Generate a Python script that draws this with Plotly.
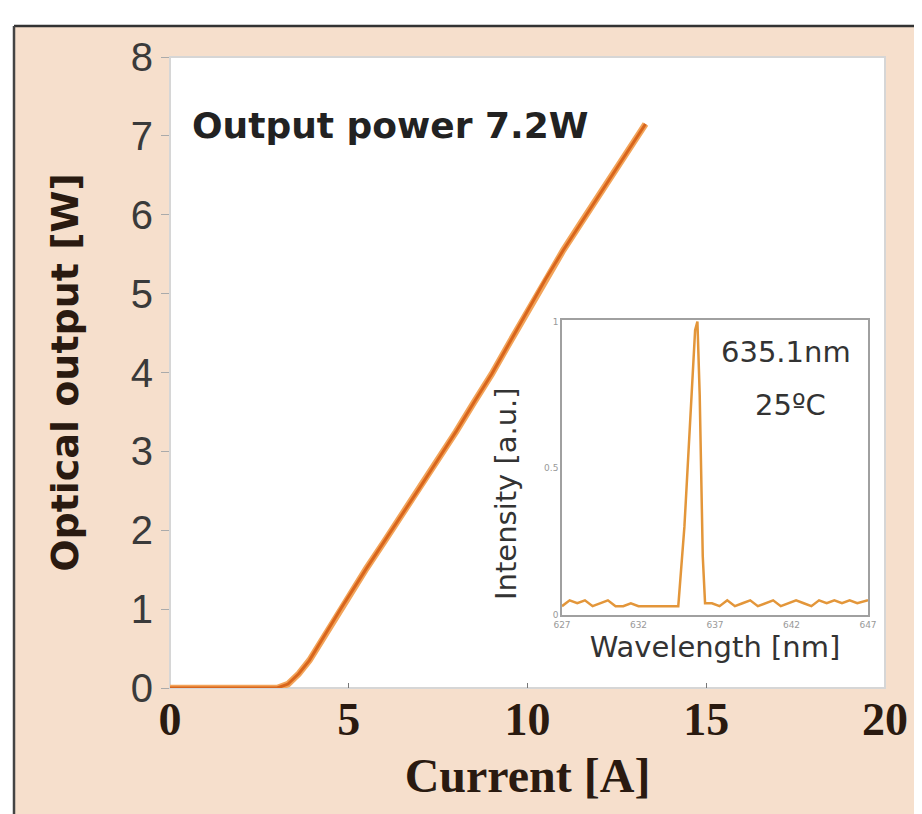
import plotly.graph_objects as go

# ---- data ----
current_a = [0, 1, 2, 3.0, 3.3, 3.6, 3.9, 4.3, 4.8, 5.5, 6.0, 6.5, 7.0, 7.5, 8.0,
             8.5, 9.0, 9.5, 10.0, 10.5, 11.0, 11.5, 12.0, 12.5, 13.0, 13.3]
power_w = [0, 0, 0, 0, 0.05, 0.18, 0.35, 0.65, 1.02, 1.52, 1.86, 2.2, 2.55, 2.9, 3.25,
           3.62, 3.98, 4.38, 4.78, 5.18, 5.55, 5.9, 6.25, 6.6, 6.95, 7.15]

x_ticks = [0, 5, 10, 15, 20]
y_ticks = [0, 1, 2, 3, 4, 5, 6, 7, 8]

wavelength_nm = [627, 627.5, 628, 628.5, 629, 629.5, 630, 630.5, 631, 631.5, 632, 632.5,
                 633, 633.5, 634, 634.6, 635.0, 635.4, 635.7, 635.85, 636.0, 636.2, 636.35,
                 636.8, 637.3, 637.8, 638.3, 638.8, 639.3, 639.8, 640.3, 640.8, 641.3,
                 641.8, 642.3, 642.8, 643.3, 643.8, 644.3, 644.8, 645.3, 645.8, 646.3, 647]
intensity = [0.03, 0.05, 0.04, 0.05, 0.03, 0.04, 0.05, 0.03, 0.03, 0.04, 0.03, 0.03,
             0.03, 0.03, 0.03, 0.03, 0.3, 0.7, 0.97, 1.0, 0.75, 0.2, 0.04,
             0.04, 0.03, 0.05, 0.03, 0.04, 0.05, 0.03, 0.04, 0.05, 0.03,
             0.04, 0.05, 0.04, 0.03, 0.05, 0.04, 0.05, 0.04, 0.05, 0.04, 0.05]
wl_ticks = [627, 632, 637, 642, 647]
int_ticks = [0, 0.5, 1]

# ---- geometry helpers (reference pixel -> paper) ----
OFF = 8                      # page body margin of the browser
W, H = 922 - OFF, 814 - OFF  # figure size
L, R, T, B = 170, 885, 57, 688  # plot area in page pixels


def px(p):
    return (p - L) / (R - L)


def py(p):
    return (B - p) / (B - T)


fig = go.Figure()

# main L-I curve (light halo + darker core)
fig.add_trace(go.Scatter(x=current_a, y=power_w, mode="lines",
                         line=dict(color="#F2A45A", width=6.5), hoverinfo="skip",
                         showlegend=False, xaxis="x", yaxis="y"))
fig.add_trace(go.Scatter(x=current_a, y=power_w, mode="lines",
                         line=dict(color="#D8651C", width=3), showlegend=False,
                         xaxis="x", yaxis="y"))

# inset spectrum
fig.add_trace(go.Scatter(x=wavelength_nm, y=intensity, mode="lines",
                         line=dict(color="#E3963A", width=2.5), showlegend=False,
                         xaxis="x2", yaxis="y2"))

shapes = [
    # peach panel
    dict(type="rect", xref="paper", yref="paper", layer="below",
         x0=px(14), x1=px(930), y0=py(830), y1=py(26),
         fillcolor="#F6DFCC", line=dict(width=0)),
    # white plot area
    dict(type="rect", xref="paper", yref="paper", layer="below",
         x0=0, x1=1, y0=0, y1=1, fillcolor="white",
         line=dict(color="#D6D6D6", width=2)),
    # frame lines
    dict(type="line", xref="paper", yref="paper",
         x0=px(14), x1=px(930), y0=py(26), y1=py(26),
         line=dict(color="#333333", width=2.5)),
    dict(type="line", xref="paper", yref="paper",
         x0=px(14), x1=px(14), y0=py(26), y1=py(830),
         line=dict(color="#444444", width=2.5)),
]

annotations = [
    dict(text="<b>Output power 7.2W</b>", xref="paper", yref="paper",
         x=px(190), y=py(125), xanchor="left", yanchor="middle", showarrow=False,
         font=dict(family="DejaVu Sans", size=36, color="#222222")),
    dict(text="635.1nm", xref="paper", yref="paper", x=px(786), y=py(352),
         xanchor="center", yanchor="middle", showarrow=False,
         font=dict(family="DejaVu Sans", size=29, color="#333333")),
    dict(text="25ºC", xref="paper", yref="paper", x=px(790), y=py(405),
         xanchor="center", yanchor="middle", showarrow=False,
         font=dict(family="DejaVu Sans", size=29, color="#333333")),
    dict(text="Intensity [a.u.]", xref="paper", yref="paper", x=px(506), y=py(494),
         xanchor="center", yanchor="middle", textangle=-90, showarrow=False,
         font=dict(family="DejaVu Sans", size=29, color="#333333")),
]

fig.update_layout(
    width=W, height=H,
    margin=dict(l=L - OFF, r=W - (R - OFF), t=T - OFF, b=H - (B - OFF), autoexpand=False),
    paper_bgcolor="white", plot_bgcolor="rgba(0,0,0,0)",
    shapes=shapes, annotations=annotations,
    xaxis=dict(range=[0, 20], tickvals=x_ticks, ticks="inside", ticklen=5,
               tickcolor="#777777", showgrid=False, zeroline=False,
               showline=False,
               tickfont=dict(family="Liberation Serif", size=46, color="#2a1a10",
                             weight="bold"),
               title=dict(text="<b>Current [A]</b>", standoff=14,
                          font=dict(family="Liberation Serif", size=48, color="#2a1a10"))),
    yaxis=dict(range=[0, 8], tickvals=y_ticks, ticks="outside", ticklen=8,
               tickcolor="#AAAAAA", showgrid=False, zeroline=False, showline=False,
               tickfont=dict(family="Liberation Sans", size=40, color="#3a3a3a"),
               title=dict(text="<b>Optical output [W]</b>", standoff=40,
                          font=dict(family="DejaVu Sans", size=38, color="#2a1a10"))),
    xaxis2=dict(domain=[px(562), px(868)], anchor="y2", range=[627, 647],
                tickvals=wl_ticks, showgrid=False, zeroline=False,
                showline=True, mirror=True, linecolor="#A0A0A0", linewidth=1.5,
                ticks="", tickfont=dict(family="DejaVu Sans", size=9, color="#999999"),
                title=dict(text="Wavelength [nm]", standoff=4,
                           font=dict(family="DejaVu Sans", size=29, color="#333333"))),
    yaxis2=dict(domain=[py(615), py(320)], anchor="x2", range=[0, 1.005],
                tickvals=int_ticks, showgrid=False, zeroline=False,
                showline=True, mirror=True, linecolor="#A0A0A0", linewidth=1.5,
                ticks="", tickfont=dict(family="DejaVu Sans", size=9, color="#999999")),
)

fig.write_html("out.html")
